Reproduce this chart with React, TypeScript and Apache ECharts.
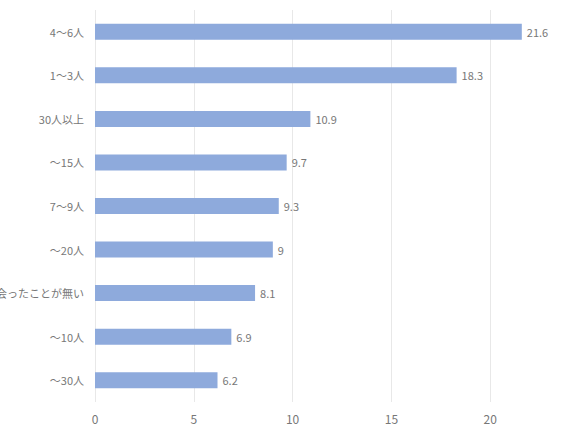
import React, { useEffect, useRef } from "react";
import * as echarts from "echarts";

const categories = ["4〜6人", "1〜3人", "30人以上", "〜15人", "7〜9人", "〜20人", "会ったことが無い", "〜10人", "〜30人"];
const values = [21.6, 18.3, 10.9, 9.7, 9.3, 9, 8.1, 6.9, 6.2];

export default function App() {
  const ref = useRef<HTMLDivElement>(null);
  useEffect(() => {
    const chart = echarts.init(ref.current!, null, { renderer: "svg" });
    const font = "'Noto Sans CJK JP', 'Noto Sans', sans-serif";
    chart.setOption({
      animation: false,
      backgroundColor: "#ffffff",
      textStyle: { fontFamily: font },
      grid: { left: 95, right: 11, top: 10, bottom: 30, containLabel: false, outerBoundsMode: "none" },
      xAxis: {
        type: "value",
        min: 0,
        max: 25,
        interval: 5,
        axisLine: { show: false },
        axisTick: { show: false },
        splitLine: { show: true, lineStyle: { color: "#e8e8e8", width: 1 } },
        axisLabel: { color: "#777777", fontSize: 12, margin: 10, fontFamily: font, showMaxLabel: false },
      },
      yAxis: {
        type: "category",
        data: [...categories].reverse(),
        axisLine: { show: false },
        axisTick: { show: false },
        axisLabel: { color: "#777777", fontSize: 11, margin: 11, fontFamily: font },
      },
      series: [
        {
          type: "bar",
          data: [...values].reverse(),
          barWidth: 16,
          itemStyle: { color: "#8eaadc" },
          label: {
            show: true,
            position: "right",
            distance: 5,
            color: "#777777",
            fontSize: 11,
            fontFamily: font,
          },
        },
      ],
    });
    return () => chart.dispose();
  }, []);
  return (
    <div style={{ position: "fixed", left: 0, top: 0, width: 576, height: 432, overflow: "hidden", background: "#fff" }}>
      <div ref={ref} style={{ width: 600, height: 432 }} />
    </div>
  );
}
